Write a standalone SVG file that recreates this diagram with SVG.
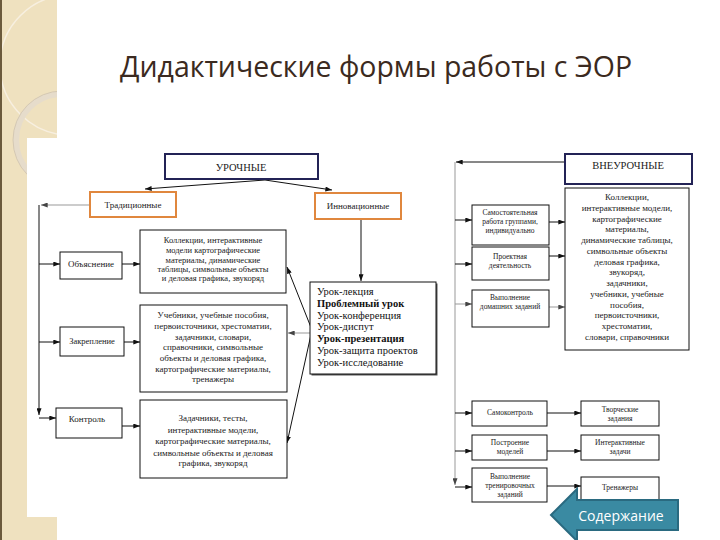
<svg xmlns="http://www.w3.org/2000/svg" width="720" height="540" viewBox="0 0 720 540">
<defs>
<marker id="ah" viewBox="0 0 8 6" refX="8" refY="3" markerWidth="7" markerHeight="5" markerUnits="userSpaceOnUse" orient="auto">
<path d="M0,0 L8,3 L0,6 Z" fill="#111"/>
</marker>
<marker id="ahg" viewBox="0 0 8 6" refX="8" refY="3" markerWidth="7" markerHeight="5" markerUnits="userSpaceOnUse" orient="auto">
<path d="M0,0 L8,3 L0,6 Z" fill="#444"/>
</marker>
<clipPath id="strip"><rect x="0" y="0" width="57" height="540"/></clipPath>
</defs>
<style>
.t{font-family:"Liberation Serif","Times New Roman",serif;fill:#1a1a1a;text-anchor:middle}
.s{font-size:8.5px}
.m{font-size:9px}
.box{fill:#fff;stroke:#111;stroke-width:1}
.nav{fill:#fff;stroke:#232356;stroke-width:2}
.org{fill:#fff;stroke:#e0873e;stroke-width:2}
.c{fill:none;stroke:#111;stroke-width:1;marker-end:url(#ah)}
.g{fill:none;stroke:#999;stroke-width:1;marker-end:url(#ahg)}
</style>
<rect width="720" height="540" fill="#fff"/>
<g id="background">
<rect x="0" y="0" width="57" height="540" fill="#efe1bf"/>
<g clip-path="url(#strip)">
<circle cx="70" cy="65" r="70" fill="none" stroke="#f7efe0" stroke-width="1.5"/>
<circle cx="62" cy="140" r="46" fill="none" stroke="#e6dccb" stroke-width="6"/>
<circle cx="62" cy="140" r="49" fill="none" stroke="#cfc3ad" stroke-width="0.8"/>
</g>
<rect x="0" y="0" width="2" height="540" fill="#6b5a3c"/>
<rect x="27" y="138" width="693" height="379" fill="#fff"/>
</g>
<text id="title" x="120" y="77" font-family="'Open Sans','DejaVu Sans',sans-serif" font-size="29" fill="#3b2a20" textLength="512" lengthAdjust="spacingAndGlyphs">Дидактические формы работы с ЭОР</text>
<g id="connectors">
<path class="c" d="M265,180 L145,189"/>
<path class="c" d="M265,180 L332,190"/>
<path class="g" d="M90,205 L41,205"/>
<path class="c" d="M39,205 L39,415"/>
<path class="c" d="M39,264 L60,264"/>
<path class="c" d="M39,342 L60,342"/>
<path class="c" d="M39,418 L56,418"/>
<path class="c" d="M122,264 L140,264"/>
<path class="c" d="M124,342 L140,342"/>
<path class="c" d="M122,426 L140,426"/>
<path class="c" d="M361,219 L361,281"/>
<path class="c" d="M312,330 L287,267"/>
<path class="g" d="M310,333 L288,333"/>
<path class="c" d="M312,330 L287,443"/>
<path class="c" d="M565,162 L456,162"/>
<path class="g" d="M455,162 L455,485"/>
<path class="c" d="M455,220 L472,220"/>
<path class="c" d="M549,222 L565,222"/>
<path class="c" d="M455,264 L472,264"/>
<path class="c" d="M549,256 L565,256"/>
<path class="g" d="M455,304 L472,304"/>
<path class="g" d="M549,307 L565,307"/>
<path class="c" d="M455,413 L472,413"/>
<path class="c" d="M547,413 L581,413"/>
<path class="c" d="M455,451 L472,451"/>
<path class="c" d="M547,451 L581,451"/>
<path class="c" d="M455,487 L472,487"/>
<path class="c" d="M547,486 L581,486"/>
</g>
<g id="urochnye">
<rect class="nav" x="165" y="154" width="153" height="25"/>
<text class="t" x="241" y="171" font-size="10.5">УРОЧНЫЕ</text>
</g>
<g id="tradicionnye">
<rect class="org" x="90" y="192" width="86" height="25"/>
<text class="t m" x="133" y="208">Традиционные</text>
</g>
<g id="innovacionnye">
<rect class="org" x="315" y="193" width="86" height="26"/>
<text class="t m" x="358" y="209">Инновационные</text>
</g>
<g id="obyasnenie">
<rect class="box" x="60" y="252" width="62" height="27"/>
<text class="t m" x="91" y="267">Объяснение</text>
</g>
<g id="zakreplenie">
<rect class="box" x="60" y="327" width="64" height="29"/>
<text class="t s" x="92" y="344">Закрепление</text>
</g>
<g id="kontrol">
<rect class="box" x="56" y="408" width="66" height="30"/>
<text class="t m" x="87" y="422">Контроль</text>
</g>
<g id="box1">
<rect class="box" x="140" y="230" width="146" height="63"/>
<text class="t s" x="213"><tspan x="213" y="243">Коллекции, интерактивные</tspan><tspan x="213" y="253">модели картографические</tspan><tspan x="213" y="263">материалы, динамические</tspan><tspan x="213" y="272">таблицы, символьные объекты</tspan><tspan x="213" y="281">и деловая графика, звукоряд</tspan></text>
</g>
<g id="box2">
<rect class="box" x="140" y="305" width="147" height="87"/>
<text class="t m" x="213"><tspan x="213" y="318">Учебники, учебные пособия,</tspan><tspan x="213" y="329">первоисточники, хрестоматии,</tspan><tspan x="213" y="340">задачники, словари,</tspan><tspan x="213" y="350">справочники, символьные</tspan><tspan x="213" y="361">объекты и деловая графика,</tspan><tspan x="213" y="372">картографические материалы,</tspan><tspan x="213" y="382">тренажеры</tspan></text>
</g>
<g id="box3">
<rect class="box" x="140" y="400" width="147" height="78"/>
<text class="t m" x="213"><tspan x="213" y="421">Задачники, тесты,</tspan><tspan x="213" y="433">интерактивные модели,</tspan><tspan x="213" y="444">картографические материалы,</tspan><tspan x="213" y="456">символьные объекты и деловая</tspan><tspan x="213" y="466">графика, звукоряд</tspan></text>
</g>
<g id="uroki">
<rect x="311.5" y="283.5" width="126" height="92" fill="#555"/>
<rect class="box" x="310" y="282" width="126" height="92"/>
<text font-family="'Liberation Serif','Times New Roman',serif" font-size="10.5" fill="#111"><tspan x="317" y="295">Урок-лекция</tspan><tspan x="317" y="307" font-weight="bold">Проблемный урок</tspan><tspan x="317" y="319">Урок-конференция</tspan><tspan x="317" y="330">Урок-диспут</tspan><tspan x="317" y="342" font-weight="bold">Урок-презентация</tspan><tspan x="317" y="354">Урок-защита проектов</tspan><tspan x="317" y="366">Урок-исследование</tspan></text>
</g>
<g id="vneurochnye">
<rect class="nav" x="565" y="154" width="127" height="30"/>
<text class="t" x="628" y="169" font-size="10.5">ВНЕУРОЧНЫЕ</text>
</g>
<g id="box-right">
<rect class="box" x="565" y="188" width="124" height="162"/>
<text class="t m" x="627"><tspan x="627" y="200">Коллекции,</tspan><tspan x="627" y="211">интерактивные модели,</tspan><tspan x="627" y="222">картографические</tspan><tspan x="627" y="232">материалы,</tspan><tspan x="627" y="243">динамические таблицы,</tspan><tspan x="627" y="254">символьные объекты</tspan><tspan x="627" y="265">деловая графика,</tspan><tspan x="627" y="275">звукоряд,</tspan><tspan x="627" y="286">задачники,</tspan><tspan x="627" y="297">учебники, учебные</tspan><tspan x="627" y="308">пособия,</tspan><tspan x="627" y="318">первоисточники,</tspan><tspan x="627" y="329">хрестоматии,</tspan><tspan x="627" y="340">словари, справочники</tspan></text>
</g>
<g id="samostoyatelnaya">
<rect class="box" x="472" y="205" width="77" height="40"/>
<text class="t" font-size="7.5" x="510"><tspan x="510" y="215">Самостоятельная</tspan><tspan x="510" y="224">работа группами,</tspan><tspan x="510" y="233">индивидуально</tspan></text>
</g>
<g id="proektnaya">
<rect class="box" x="472" y="247" width="77" height="33"/>
<text class="t" font-size="7.5" x="510"><tspan x="510" y="259">Проектная</tspan><tspan x="510" y="268">деятельность</tspan></text>
</g>
<g id="domashnie">
<rect class="box" x="472" y="290" width="77" height="37"/>
<text class="t" font-size="7.5" x="510"><tspan x="510" y="300">Выполнение</tspan><tspan x="510" y="309">домашних заданий</tspan></text>
</g>
<g id="samokontrol">
<rect class="box" x="472" y="401" width="75" height="25"/>
<text class="t" font-size="7.5" x="510" y="415">Самоконтроль</text>
</g>
<g id="modeli">
<rect class="box" x="472" y="435" width="75" height="25"/>
<text class="t" font-size="7.5" x="510"><tspan x="510" y="445">Построение</tspan><tspan x="510" y="454">моделей</tspan></text>
</g>
<g id="trenirovochnye">
<rect class="box" x="472" y="468" width="75" height="34"/>
<text class="t" font-size="7.5" x="510"><tspan x="510" y="479">Выполнение</tspan><tspan x="510" y="488">тренировочных</tspan><tspan x="510" y="497">заданий</tspan></text>
</g>
<g id="tvorcheskie">
<rect class="box" x="581" y="401" width="78" height="25"/>
<text class="t" font-size="7.5" x="620"><tspan x="620" y="412">Творческие</tspan><tspan x="620" y="421">задания</tspan></text>
</g>
<g id="interaktivnye">
<rect class="box" x="581" y="435" width="78" height="25"/>
<text class="t" font-size="7.5" x="620"><tspan x="620" y="445">Интерактивные</tspan><tspan x="620" y="454">задачи</tspan></text>
</g>
<g id="trenazhery">
<rect class="box" x="581" y="477" width="78" height="25"/>
<text class="t" font-size="7.5" x="620" y="490">Тренажеры</text>
</g>
<g id="button-soderzhanie">
<path d="M551,515 L577,489 L577,500 L678,500 L678,530 L577,530 L577,541 Z" fill="#3a8aa2" stroke="#2a6a80" stroke-width="2"/>
<text x="621" y="521" font-family="'Open Sans','DejaVu Sans',sans-serif" font-size="14" fill="#fff" text-anchor="middle">Содержание</text>
</g>
</svg>
